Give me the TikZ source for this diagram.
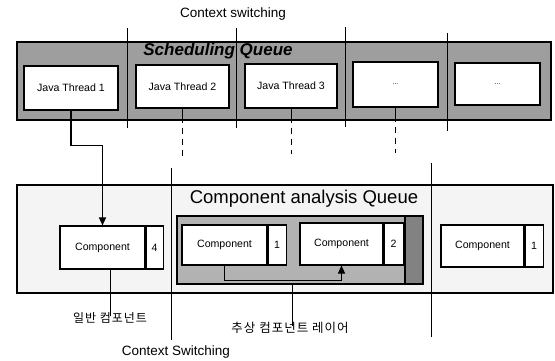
\documentclass[tikz,border=0pt]{standalone}
\usepackage{fontspec}
\setmainfont{Liberation Sans}
\newfontfamily\krfont[LetterSpace=8]{Noto Sans CJK KR}
\usetikzlibrary{arrows.meta}
\definecolor{bandgray}{RGB}{158,158,158}
\definecolor{queuebg}{RGB}{244,244,244}
\definecolor{layergray}{RGB}{178,178,178}
\definecolor{stripegray}{RGB}{130,130,130}
\tikzset{
  box/.style={draw, fill=white, line width=1.1pt, inner sep=0pt, font=\fontsize{10.6}{12}\selectfont},
  numbox/.style={box, minimum width=17pt},
  sep/.style={line width=0.9pt},
  ctxdash/.style={line width=0.9pt, dash pattern=on 14pt off 5pt on 6pt off 5pt on 6pt off 5pt on 6pt},
  arr/.style={line width=1.1pt, -{Triangle[length=8pt,width=7pt]}},
  lbl/.style={inner sep=0pt, font=\fontsize{13.5}{15}\selectfont},
  kr/.style={inner sep=0pt, font=\krfont\fontsize{12}{13}\selectfont},
}
\begin{document}
\begin{tikzpicture}[x=1pt,y=-1pt]
\useasboundingbox (0,0) rectangle (555,360);
% top queue band
\node[draw, line width=1.2pt, fill=bandgray, minimum width=534pt, minimum height=78pt, inner sep=0] (sq) at (284,81) {};
\node[inner sep=0pt, font=\fontsize{17}{19}\selectfont\bfseries\itshape] (sqt) at (218,51) {Scheduling Queue};
% thread boxes
\node[box, minimum width=94pt, minimum height=44pt] (t1) at (71,88) {Java Thread 1};
\node[box, minimum width=93pt, minimum height=43pt] (t2) at (182.5,86.5) {Java Thread 2};
\node[box, minimum width=92pt, minimum height=44pt] (t3) at (291,86) {Java Thread 3};
\node[box, minimum width=85pt, minimum height=45pt] (t4) at (395.5,84.5) {\fontsize{7}{8}\selectfont ...};
\node[box, minimum width=85pt, minimum height=42pt] (t5) at (497.5,84) {\fontsize{7}{8}\selectfont ...};
% top label and separators
\node[lbl] (cs1) at (233,14) {Context switching};
\coordinate (s1a) at (127,28); \coordinate (s1b) at (127,128);
\coordinate (s2a) at (236,28); \coordinate (s2b) at (236,128);
\coordinate (s3a) at (345,27); \coordinate (s3b) at (345,127);
\coordinate (s4a) at (447,33); \coordinate (s4b) at (447,131);
\draw[sep] (s1a) -- (s1b);
\draw[sep] (s2a) -- (s2b);
\draw[sep] (s3a) -- (s3b);
\draw[sep] (s4a) -- (s4b);
% dashed drops
\draw[ctxdash] (t2.south) -- ++(0,47);
\draw[ctxdash] (t3.south) -- ++(0,45);
\draw[ctxdash] (t4.south) -- ++(0,45);
% bottom queue
\node[draw, line width=1.2pt, fill=queuebg, minimum width=536pt, minimum height=108pt, inner sep=0] (cq) at (285,239) {};
\node[inner sep=0pt, font=\fontsize{18.5}{21}\selectfont] (cqt) at (304,199) {Component analysis Queue};
% abstract layer
\node[draw, line width=1.1pt, fill=layergray, minimum width=246pt, minimum height=68pt, inner sep=0] (layer) at (300,250) {};
\node[draw, line width=1.1pt, fill=stripegray, minimum width=18pt, minimum height=68pt, inner sep=0] (stripe) at (414,250) {};
% components
\node[box, minimum width=85pt, minimum height=43pt] (c4m) at (102.5,247.5) {Component};
\node[numbox, minimum height=43pt, anchor=west] (c4n) at (c4m.east) {4};
\node[box, minimum width=85pt, minimum height=40pt] (m1m) at (224.5,245) {Component};
\node[numbox, minimum width=18pt, minimum height=40pt, anchor=west] (m1n) at (m1m.east) {1};
\node[box, minimum width=83pt, minimum height=42pt] (m2m) at (341.5,244) {Component};
\node[numbox, minimum width=19pt, minimum height=42pt, anchor=west] (m2n) at (m2m.east) {2};
\node[box, minimum width=83pt, minimum height=42pt] (r1m) at (482.5,246) {Component};
\node[numbox, minimum width=18pt, minimum height=42pt, anchor=west] (r1n) at (r1m.east) {1};
% arrows
\draw[arr] (t1.south) -- ++(0,35) -| (c4m.north);
\draw[arr] (m1m.south) -- ++(0,15) -| (m2m.south);
% labels
\node[kr] (lab1) at (110,318) {일반 컴포넌트};
\node[kr, font=\krfont\fontsize{12.5}{14}\selectfont] (lab2) at (290,328) {추상 컴포넌트 레이어};
\node[lbl] (cs2) at (176,352) {Context Switching};
\draw[sep] (lab1.north |- c4m.south) -- ([yshift=-4pt]lab1.north);
\draw[sep] ([yshift=-4pt]lab2.north -| 292,0) -- (layer.south -| 292,0);
\coordinate (v1a) at (171,168); \coordinate (v1b) at (171,340);
\coordinate (v2a) at (431,163); \coordinate (v2b) at (431,337);
\draw[sep] (v1a) -- (v1b);
\draw[sep] (v2a) -- (v2b);
\end{tikzpicture}
\end{document}
